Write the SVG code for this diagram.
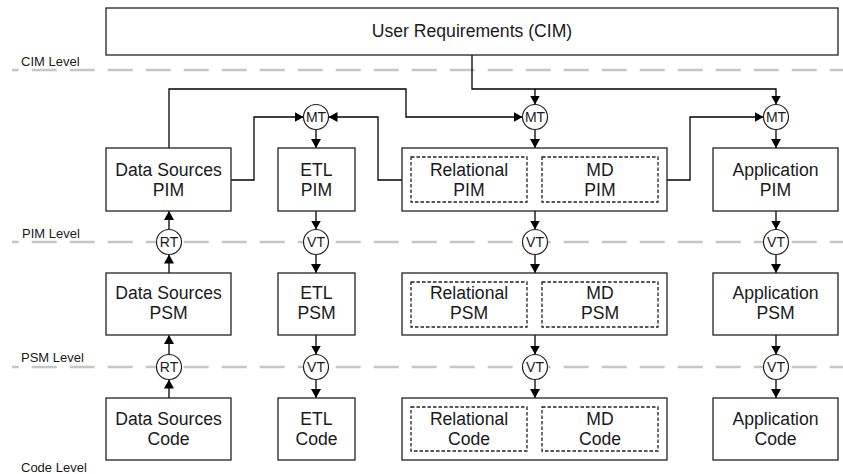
<svg xmlns="http://www.w3.org/2000/svg" width="843" height="474" viewBox="0 0 843 474">
<defs>
<marker id="ah" viewBox="0 0 10 10" refX="10" refY="5" markerWidth="9" markerHeight="10" markerUnits="userSpaceOnUse" orient="auto" preserveAspectRatio="none"><path d="M0,0 L10,5 L0,10 z" fill="#000"/></marker>
<style>
.box{fill:#fff;stroke:#222;stroke-width:1.3}
.inner{fill:#fff;stroke:#222;stroke-width:1.3;stroke-dasharray:3.5 2}
.lvl{stroke:#c6c6c6;stroke-width:2.6;stroke-dasharray:25 13;stroke-dashoffset:18.3;fill:none}
.t{font-family:"Liberation Sans",Arial,sans-serif;font-size:17.6px;fill:#1a1a1a;text-anchor:middle}
.lt{font-family:"Liberation Sans",Arial,sans-serif;font-size:13px;fill:#1a1a1a}
.ct{font-family:"Liberation Sans",Arial,sans-serif;font-size:14px;fill:#1a1a1a;text-anchor:middle}
.c{fill:#fff;stroke:#222;stroke-width:1.2}
.cn{fill:none;stroke:#000;stroke-width:1.3;marker-end:url(#ah)}
</style>
</defs>
<g id="levels">
<line class="lvl" x1="12" y1="70" x2="843" y2="70"/>
<line class="lvl" x1="12" y1="242" x2="843" y2="242"/>
<line class="lvl" x1="12" y1="367" x2="843" y2="367"/>
<text class="lt" x="21" y="66">CIM Level</text>
<text class="lt" x="22" y="238">PIM Level</text>
<text class="lt" x="21" y="362">PSM Level</text>
<text class="lt" x="21" y="472">Code Level</text>
</g>
<g id="connectors">
<path class="cn" d="M472,55 V89 H776 V104.5"/>
<path class="cn" d="M535,89 V104.5"/>
<path class="cn" d="M169,148 V89 H406 V117 H522.5"/>
<path class="cn" d="M231,180 H254 V117 H303.5"/>
<path class="cn" d="M402,180 H378 V117 H328.5"/>
<path class="cn" d="M667,180 H690 V117 H763.5"/>
<path class="cn" d="M316,129.5 V148"/>
<path class="cn" d="M535,129.5 V148"/>
<path class="cn" d="M776,129.5 V148"/>
<path class="cn" d="M169,273 V254.5"/>
<path class="cn" d="M169,229.5 V211"/>
<path class="cn" d="M169,398 V379.5"/>
<path class="cn" d="M169,354.5 V335"/>
<path class="cn" d="M316,211 V229.5"/>
<path class="cn" d="M316,254.5 V273"/>
<path class="cn" d="M316,335 V354.5"/>
<path class="cn" d="M316,379.5 V398"/>
<path class="cn" d="M535,211 V229.5"/>
<path class="cn" d="M535,254.5 V273"/>
<path class="cn" d="M535,335 V354.5"/>
<path class="cn" d="M535,379.5 V398"/>
<path class="cn" d="M776,211 V229.5"/>
<path class="cn" d="M776,254.5 V273"/>
<path class="cn" d="M776,335 V354.5"/>
<path class="cn" d="M776,379.5 V398"/>
</g>
<g id="cim"><rect class="box" x="106" y="8" width="732" height="47"/><text class="t" x="472" y="37">User Requirements (CIM)</text></g>
<g id="ds-pim"><rect class="box" x="106" y="148" width="125" height="63"/><text class="t" x="168.5" y="176">Data Sources</text><text class="t" x="168.5" y="196">PIM</text></g>
<g id="etl-pim"><rect class="box" x="278" y="148" width="77" height="63"/><text class="t" x="316.5" y="176">ETL</text><text class="t" x="316.5" y="196">PIM</text></g>
<g id="dw-pim"><rect class="box" x="402" y="148" width="265" height="63"/>
<rect class="inner" x="411" y="157" width="116" height="45"/><text class="t" x="469" y="176">Relational</text><text class="t" x="469" y="196">PIM</text>
<rect class="inner" x="542" y="157" width="116" height="45"/><text class="t" x="600" y="176">MD</text><text class="t" x="600" y="196">PIM</text></g>
<g id="app-pim"><rect class="box" x="713" y="148" width="125" height="63"/><text class="t" x="775.5" y="176">Application</text><text class="t" x="775.5" y="196">PIM</text></g>
<g id="ds-psm"><rect class="box" x="106" y="273" width="125" height="62"/><text class="t" x="168.5" y="299">Data Sources</text><text class="t" x="168.5" y="319">PSM</text></g>
<g id="etl-psm"><rect class="box" x="278" y="273" width="77" height="62"/><text class="t" x="316.5" y="299">ETL</text><text class="t" x="316.5" y="319">PSM</text></g>
<g id="dw-psm"><rect class="box" x="402" y="273" width="265" height="62"/>
<rect class="inner" x="411" y="282" width="116" height="45"/><text class="t" x="469" y="299">Relational</text><text class="t" x="469" y="319">PSM</text>
<rect class="inner" x="542" y="282" width="116" height="45"/><text class="t" x="600" y="299">MD</text><text class="t" x="600" y="319">PSM</text></g>
<g id="app-psm"><rect class="box" x="713" y="273" width="125" height="62"/><text class="t" x="775.5" y="299">Application</text><text class="t" x="775.5" y="319">PSM</text></g>
<g id="ds-code"><rect class="box" x="106" y="398" width="125" height="62"/><text class="t" x="168.5" y="425">Data Sources</text><text class="t" x="168.5" y="445">Code</text></g>
<g id="etl-code"><rect class="box" x="278" y="398" width="77" height="62"/><text class="t" x="316.5" y="425">ETL</text><text class="t" x="316.5" y="445">Code</text></g>
<g id="dw-code"><rect class="box" x="402" y="398" width="265" height="62"/>
<rect class="inner" x="411" y="407" width="116" height="44"/><text class="t" x="469" y="425">Relational</text><text class="t" x="469" y="445">Code</text>
<rect class="inner" x="542" y="407" width="116" height="44"/><text class="t" x="600" y="425">MD</text><text class="t" x="600" y="445">Code</text></g>
<g id="app-code"><rect class="box" x="713" y="398" width="125" height="62"/><text class="t" x="775.5" y="425">Application</text><text class="t" x="775.5" y="445">Code</text></g>
<g id="mt-etl"><circle class="c" cx="316" cy="117" r="12.5"/><text class="ct" x="316" y="122">MT</text></g>
<g id="mt-dw"><circle class="c" cx="535" cy="117" r="12.5"/><text class="ct" x="535" y="122">MT</text></g>
<g id="mt-app"><circle class="c" cx="776" cy="117" r="12.5"/><text class="ct" x="776" y="122">MT</text></g>
<g id="rt-1"><circle class="c" cx="169" cy="242" r="12.5"/><text class="ct" x="169" y="247">RT</text></g>
<g id="vt-etl-1"><circle class="c" cx="316" cy="242" r="12.5"/><text class="ct" x="316" y="247">VT</text></g>
<g id="vt-dw-1"><circle class="c" cx="535" cy="242" r="12.5"/><text class="ct" x="535" y="247">VT</text></g>
<g id="vt-app-1"><circle class="c" cx="776" cy="242" r="12.5"/><text class="ct" x="776" y="247">VT</text></g>
<g id="rt-2"><circle class="c" cx="169" cy="367" r="12.5"/><text class="ct" x="169" y="372">RT</text></g>
<g id="vt-etl-2"><circle class="c" cx="316" cy="367" r="12.5"/><text class="ct" x="316" y="372">VT</text></g>
<g id="vt-dw-2"><circle class="c" cx="535" cy="367" r="12.5"/><text class="ct" x="535" y="372">VT</text></g>
<g id="vt-app-2"><circle class="c" cx="776" cy="367" r="12.5"/><text class="ct" x="776" y="372">VT</text></g>
</svg>
